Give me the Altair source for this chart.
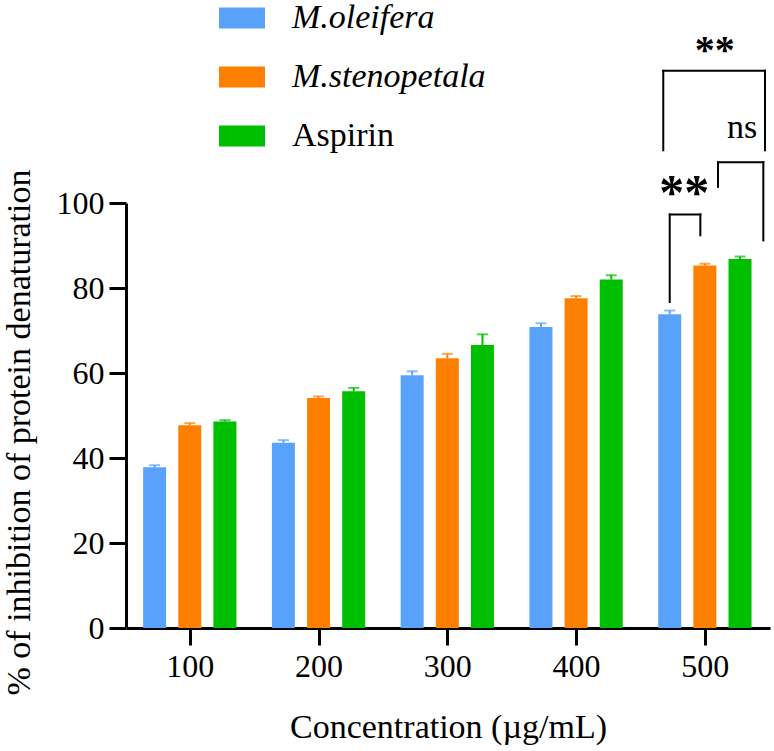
import altair as alt
import pandas as pd

# ---------------- data ----------------
concentrations = [100, 200, 300, 400, 500]
series_names = ["M.oleifera", "M.stenopetala", "Aspirin"]
oleifera = [37.8, 43.6, 59.5, 70.8, 73.8]
oleifera_err = [0.5, 0.6, 0.9, 0.9, 0.9]
stenopetala = [47.7, 54.1, 63.5, 77.6, 85.3]
stenopetala_err = [0.5, 0.4, 1.0, 0.5, 0.4]
aspirin = [48.6, 55.7, 66.6, 82.0, 86.8]
aspirin_err = [0.3, 0.8, 2.5, 1.0, 0.6]
colors = ["#59A2FB", "#FF8000", "#00BF00"]
x_ticks = [100, 200, 300, 400, 500]
y_ticks = [0, 20, 40, 60, 80, 100]

# significance brackets (x in concentration units, y in % units)
bracket_left = [472.7, 510.2, 467.7]
bracket_right = [496.5, 545.4, 546.7]
bracket_top = [97.3, 109.6, 131.1]
bracket_left_end = [76.7, 103.8, 112.4]
bracket_right_end = [92.4, 91.2, 112.4]
star_labels = ["**", "**"]
star_x = [484.0, 507.7]
star_y = [98.5, 133.0]
star_size = [50, 40]
ns_labels = ["ns"]
ns_x = [529.0]
ns_y = [115.2]

# ---------------- tables ----------------
rows = []
for idx, (name, vals, errs) in enumerate(zip(series_names,
                                              [oleifera, stenopetala, aspirin],
                                              [oleifera_err, stenopetala_err, aspirin_err])):
    for c, v, e in zip(concentrations, vals, errs):
        rows.append({"conc": c, "series": name, "order": idx, "value": v, "hi": v + e})
df = pd.DataFrame(rows)

seg = []
for l, r, t, le, re_ in zip(bracket_left, bracket_right, bracket_top, bracket_left_end, bracket_right_end):
    seg.append({"x": l, "x2": r, "y": t, "y2": t})
    seg.append({"x": l, "x2": l, "y": t, "y2": le})
    seg.append({"x": r, "x2": r, "y": t, "y2": re_})
seg_df = pd.DataFrame(seg)
stars_df = pd.DataFrame({"label": star_labels, "x": star_x, "y": star_y, "size": star_size})
ns_df = pd.DataFrame({"label": ns_labels, "x": ns_x, "y": ns_y})

FONT = "Liberation Serif"
GROUP_OFFSET = 27.3  # in concentration units

xscale = alt.Scale(domain=[54.36, 546.7], nice=False, zero=False)
yscale = alt.Scale(domain=[0, 100], nice=False)
cscale = alt.Scale(domain=series_names, range=colors)

x_axis = alt.Axis(values=x_ticks, format="d", title="Concentration (µg/mL)",
                  labelFontSize=32, titleFontSize=34, titleFontWeight="normal",
                  tickSize=17, tickWidth=3, domainWidth=3, domainColor="black",
                  tickColor="black", labelColor="black", titleColor="black",
                  labelPadding=6, titlePadding=28, grid=False, labelFlush=False,
                  labelOverlap=False, labelFont=FONT, titleFont=FONT)
y_axis = alt.Axis(values=y_ticks, title="% of inhibition of protein denaturation",
                  labelFontSize=32, titleFontSize=34, titleFontWeight="normal",
                  tickSize=17, tickWidth=3, domainWidth=3, domainColor="black",
                  tickColor="black", labelColor="black", titleColor="black",
                  labelPadding=5, titlePadding=20, titleY=229, grid=False,
                  labelFont=FONT, titleFont=FONT)

base = alt.Chart(df).transform_calculate(
    xpos=f"datum.conc + (datum.order - 1) * {GROUP_OFFSET}"
)

bars = base.mark_bar(size=23).encode(
    x=alt.X("xpos:Q", scale=xscale, axis=x_axis),
    y=alt.Y("value:Q", scale=yscale, axis=y_axis),
    color=alt.Color("series:N", scale=cscale, legend=alt.Legend(
        title=None, orient="none", legendX=93, legendY=-208,
        symbolType="M-1,-0.46H1V0.46H-1Z", symbolSize=2116, symbolStrokeWidth=0,
        symbolOpacity=1, labelFontSize=34, labelFont=FONT, labelColor="black",
        labelFontStyle=alt.ExprRef("datum.label == 'Aspirin' ? 'normal' : 'italic'"),
        labelOffset=27, rowPadding=19, padding=0, labelLimit=0)),
)

err_line = base.mark_rule(strokeWidth=2).encode(
    x="xpos:Q", y="value:Q", y2="hi:Q",
    color=alt.Color("series:N", scale=cscale, legend=None),
)
err_cap = base.mark_tick(orient="horizontal", size=11, thickness=2).encode(
    x="xpos:Q", y="hi:Q",
    color=alt.Color("series:N", scale=cscale, legend=None),
)

brackets = alt.Chart(seg_df).mark_rule(strokeWidth=2, color="black", strokeCap="square").encode(
    x="x:Q", x2="x2:Q", y="y:Q", y2="y2:Q"
)
stars = alt.Chart(stars_df).mark_text(font=FONT, fontWeight="bold", color="black",
                                      align="center", baseline="alphabetic").encode(
    x="x:Q", y="y:Q", text="label:N", size=alt.Size("size:Q", scale=None, legend=None)
)
ns = alt.Chart(ns_df).mark_text(font=FONT, fontSize=34, color="black",
                                align="center", baseline="alphabetic").encode(
    x="x:Q", y="y:Q", text="label:N"
)

chart = alt.layer(bars, err_line, err_cap, brackets, stars, ns).properties(
    width=644, height=425,
    autosize=alt.AutoSizeParams(type="none"),
    padding={"left": 126, "top": 203, "right": 4, "bottom": 123},
).configure(font=FONT, background="white").configure_view(stroke=None)

chart.save("out.html", embed_options={"renderer": "svg", "actions": False})
